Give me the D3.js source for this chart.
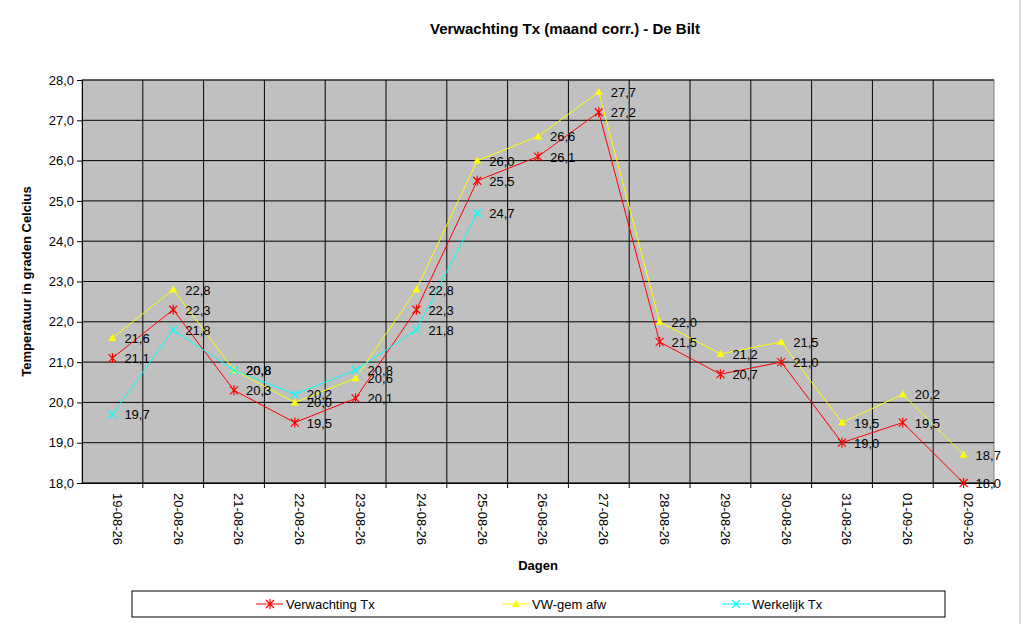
<!DOCTYPE html>
<html>
<head>
<meta charset="utf-8">
<script src="https://cdn.jsdelivr.net/npm/d3@7"></script>
<style>
body { margin: 0; background: #fff; }
text { font-family: "Liberation Sans", Arial, sans-serif; }
</style>
</head>
<body>
<div class="chart-container"></div>
<script>
const width = 1024;
const height = 624;
const margin = { top: 80, right: 30, bottom: 141, left: 82 };

const dagen = ["19-08-26","20-08-26","21-08-26","22-08-26","23-08-26","24-08-26","25-08-26",
               "26-08-26","27-08-26","28-08-26","29-08-26","30-08-26","31-08-26","01-09-26","02-09-26"];

const series = [
    { naam: "Verwachting Tx", kleur: "#ff0000", symbool: "star",
      waarden: [21.1,22.3,20.3,19.5,20.1,22.3,25.5,26.1,27.2,21.5,20.7,21.0,19.0,19.5,18.0] },
    { naam: "VW-gem afw", kleur: "#ffff00", symbool: "tri",
      waarden: [21.6,22.8,20.8,20.0,20.6,22.8,26.0,26.6,27.7,22.0,21.2,21.5,19.5,20.2,18.7] },
    { naam: "Werkelijk Tx", kleur: "#00ffff", symbool: "x",
      waarden: [19.7,21.8,20.8,20.2,20.8,21.8,24.7] },
];

const svg = d3.select(".chart-container").append("svg")
    .attr("width", width).attr("height", height);

const innerW = width - margin.left - margin.right;
const innerH = height - margin.top - margin.bottom;

const escalaX = d3.scaleBand().domain(dagen).range([margin.left, margin.left + innerW]);
const escalaY = d3.scaleLinear().domain([18, 28]).range([margin.top + innerH, margin.top]);
const cx = (d) => escalaX(d) + escalaX.bandwidth() / 2;

svg.append("rect")
    .attr("x", margin.left).attr("y", margin.top)
    .attr("width", innerW).attr("height", innerH)
    .attr("fill", "#c0c0c0").attr("stroke", "#808080");

// grid
svg.append("g").selectAll("line").data(d3.range(18, 28.1, 1)).join("line")
    .attr("x1", margin.left).attr("x2", margin.left + innerW)
    .attr("y1", (d) => escalaY(d)).attr("y2", (d) => escalaY(d))
    .attr("stroke", "#000").attr("stroke-width", 1);
svg.append("g").selectAll("line").data(dagen.slice(1)).join("line")
    .attr("x1", (d) => escalaX(d)).attr("x2", (d) => escalaX(d))
    .attr("y1", margin.top).attr("y2", margin.top + innerH)
    .attr("stroke", "#000").attr("stroke-width", 1);

// axes
const ejeY = svg.append("g").attr("transform", `translate(${margin.left},0)`)
    .call(d3.axisLeft(escalaY).ticks(10).tickSize(5).tickFormat((d) => d3.format(".1f")(d).replace(".", ",")));
ejeY.selectAll("text").attr("font-size", 13).attr("fill", "#000");
const ejeX = svg.append("g").attr("transform", `translate(0,${margin.top + innerH})`)
    .call(d3.axisBottom(escalaX).tickSize(5).tickSizeOuter(0));
ejeX.selectAll(".tick line").attr("transform", `translate(${escalaX.bandwidth() / 2},0)`);
ejeX.selectAll("text")
    .attr("font-size", 13).attr("fill", "#000")
    .attr("transform", "rotate(90)").attr("x", 10).attr("y", -5)
    .attr("dy", "0.35em").style("text-anchor", "start");
svg.selectAll(".domain").attr("stroke", "#000");

const line = d3.line().x((d, i) => cx(dagen[i])).y((d) => escalaY(d));

function drawSymbol(g, type, kleur, x, y) {
    if (type === "tri") {
        g.append("path").attr("d", `M${x},${y - 4}L${x + 4},${y + 3}L${x - 4},${y + 3}Z`).attr("fill", kleur);
    } else {
        const s = 4;
        g.append("path").attr("d", `M${x - s},${y - s}L${x + s},${y + s}M${x - s},${y + s}L${x + s},${y - s}` +
            (type === "star" ? `M${x},${y - s - 1}L${x},${y + s + 1}` : ""))
            .attr("stroke", kleur).attr("stroke-width", 1.2);
    }
}

series.forEach((s) => {
    const g = svg.append("g");
    g.append("path").attr("d", line(s.waarden)).attr("fill", "none").attr("stroke", s.kleur).attr("stroke-width", 1);
    s.waarden.forEach((v, i) => {
        drawSymbol(g, s.symbool, s.kleur, cx(dagen[i]), escalaY(v));
    });
});
series.forEach((s) => {
    svg.append("g").selectAll("text").data(s.waarden).join("text")
        .attr("x", (d, i) => cx(dagen[i]) + 12).attr("y", (d) => escalaY(d) + 5)
        .attr("font-size", 13).attr("fill", "#000")
        .text((d) => d3.format(".1f")(d).replace(".", ","));
});

svg.append("text").attr("x", 565).attr("y", 34).attr("text-anchor", "middle")
    .attr("font-size", 15).attr("font-weight", "bold").text("Verwachting Tx (maand corr.) - De Bilt");
svg.append("text").attr("x", 538).attr("y", 570).attr("text-anchor", "middle")
    .attr("font-size", 13).attr("font-weight", "bold").text("Dagen");
svg.append("text").attr("transform", `translate(31,${escalaY(23)}) rotate(-90)`).attr("text-anchor", "middle")
    .attr("font-size", 13).attr("font-weight", "bold").text("Temperatuur in graden Celcius");

// legend
const legend = svg.append("g");
legend.append("rect").attr("x", 132).attr("y", 591).attr("width", 813).attr("height", 26)
    .attr("fill", "#fff").attr("stroke", "#000");
const legendX = [256, 502, 722];
series.forEach((s, i) => {
    const x0 = legendX[i], y0 = 604;
    legend.append("line").attr("x1", x0).attr("x2", x0 + 27).attr("y1", y0).attr("y2", y0).attr("stroke", s.kleur);
    drawSymbol(legend, s.symbool, s.kleur, x0 + 14, y0);
    legend.append("text").attr("x", x0 + 30).attr("y", y0 + 5).attr("font-size", 13).text(s.naam);
});
svg.append("line").attr("x1", 1020).attr("x2", 1020).attr("y1", 0).attr("y2", height).attr("stroke", "#ddd").attr("stroke-width", 2);
</script>
</body>
</html>
